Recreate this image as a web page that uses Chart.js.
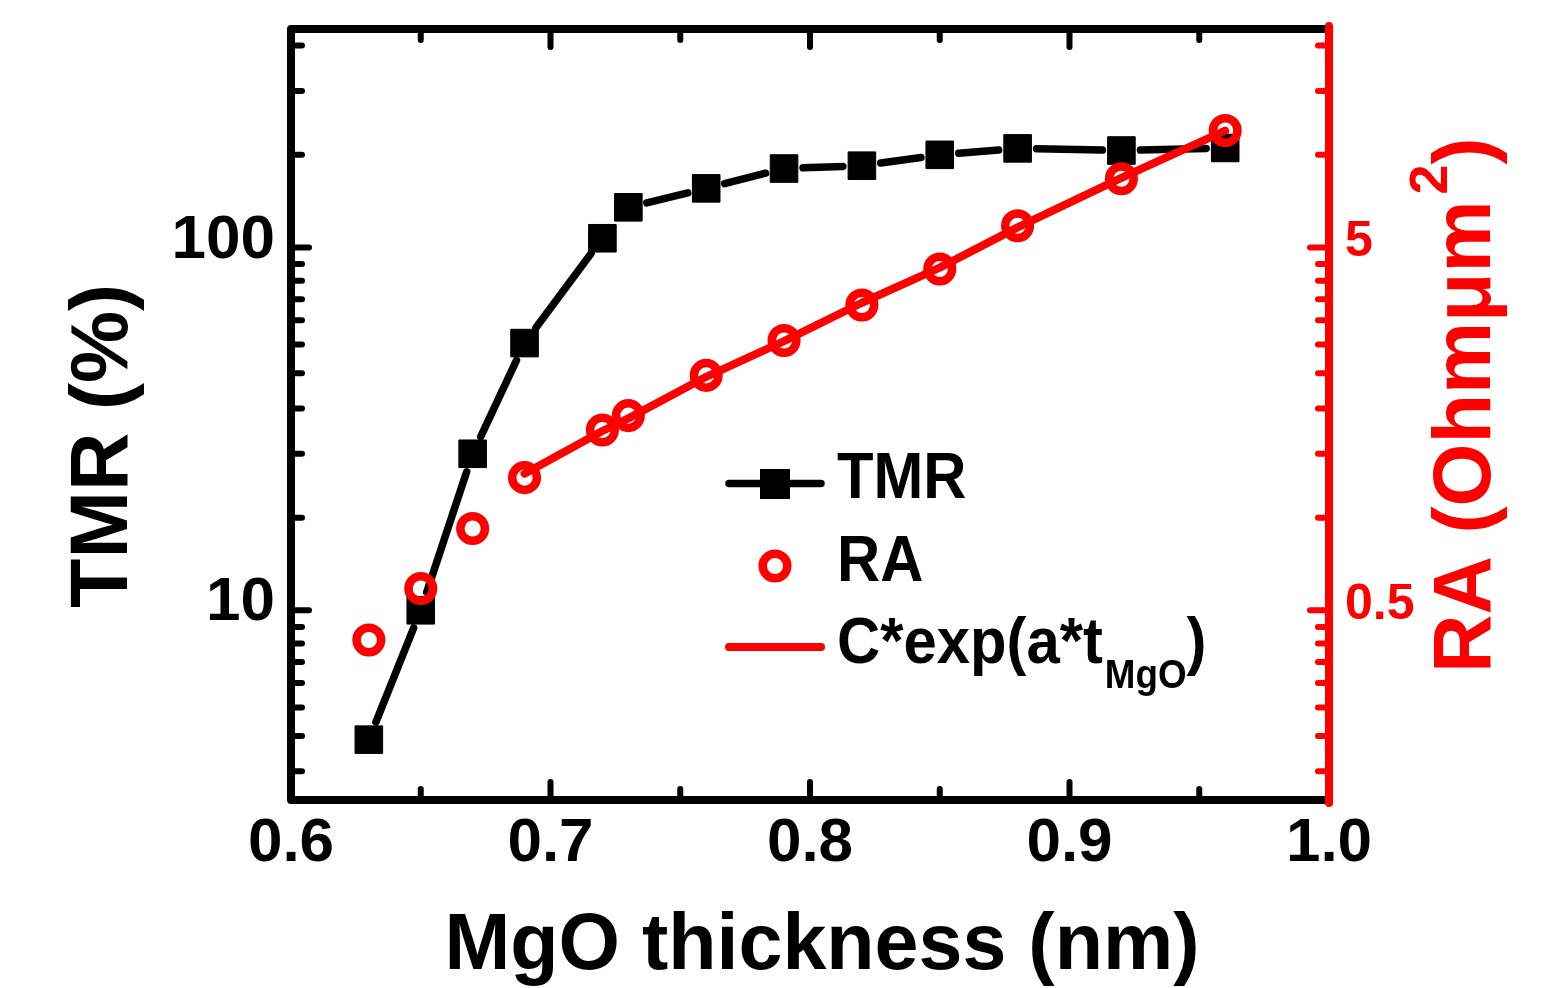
<!DOCTYPE html>
<html>
<head>
<meta charset="utf-8">
<title>TMR and RA vs MgO thickness</title>
<script src="https://cdn.jsdelivr.net/npm/chart.js@4.4.0/dist/chart.umd.min.js"></script>
<style>
  html, body { margin: 0; padding: 0; background: #fff; overflow: hidden; }
  #wrap { width: 1557px; height: 988px; position: relative; }
</style>
</head>
<body>
<div id="wrap"><canvas id="tmrChart"></canvas></div>
<script>
// Measured data
const thickness = [0.63, 0.65, 0.67, 0.69, 0.72, 0.73, 0.76, 0.79, 0.82, 0.85, 0.88, 0.92, 0.96];
const tmrValues = [4.4, 10, 27, 54.5, 106, 129, 145.5, 165, 168, 180, 187.5, 185, 188];
const raValues = [0.414, 0.574, 0.84, 1.16, 1.57, 1.72, 2.22, 2.77, 3.47, 4.36, 5.74, 7.73, 10.5];

// Exponential fit of RA
const fitThickness = [0.69, 0.72, 0.73, 0.76, 0.79, 0.82, 0.85, 0.88, 0.92, 0.96];
const raFitValues = [1.19, 1.56, 1.69, 2.2, 2.76, 3.52, 4.4, 5.68, 7.78, 10.5];

// Axis ticks
const xTicks = [0.6, 0.7, 0.8, 0.9, 1.0];
const xMinorTicks = [0.65, 0.75, 0.85, 0.95];
const tmrTicks = [10, 100];
const tmrMinorTicks = [3.6, 4.5, 5.4, 6.3, 7.2, 8.1, 9, 18, 27, 36, 45, 54, 63, 72, 81, 90, 180, 270, 360];
const raTicks = [0.5, 5];
const raMinorTicks = [0.18, 0.225, 0.27, 0.315, 0.36, 0.405, 0.45, 0.9, 1.35, 1.8, 2.25, 2.7, 3.15, 3.6, 4.05, 4.5, 9, 13.5, 18];

const FONT = '"Liberation Sans", Arial, Helvetica, sans-serif';
const RED = '#ff0000';

// text squeezed horizontally, returns drawn width
function squeezedText(ctx, str, x, y, sx) {
  ctx.save();
  ctx.translate(x, y);
  ctx.scale(sx, 1);
  ctx.fillText(str, 0, 0);
  const w = ctx.measureText(str).width * sx;
  ctx.restore();
  return w;
}

// Origin style connecting lines that stop short of the square symbols
const tmrLinks = {
  id: 'tmrLinks',
  beforeDatasetDraw(chart, args) {
    if (chart.data.datasets[args.index].label !== 'TMR') return;
    const pts = args.meta.data;
    const ctx = chart.ctx;
    const gap = 19;
    ctx.save();
    ctx.strokeStyle = '#000';
    ctx.lineWidth = 7.5;
    ctx.lineCap = 'round';
    for (let i = 1; i < pts.length; i++) {
      const a = pts[i - 1], b = pts[i];
      const dx = b.x - a.x, dy = b.y - a.y;
      const len = Math.hypot(dx, dy);
      if (len <= 2 * gap + 4) continue;
      const ux = dx / len, uy = dy / len;
      ctx.beginPath();
      ctx.moveTo(a.x + ux * gap, a.y + uy * gap);
      ctx.lineTo(b.x - ux * gap, b.y - uy * gap);
      ctx.stroke();
    }
    ctx.restore();
  }
};

// frame, inward ticks, titles and legend
const decorations = {
  id: 'decorations',
  afterDatasetsDraw(chart) {
    const ctx = chart.ctx;
    const { left, right, top, bottom } = chart.chartArea;
    const xs = chart.scales.x, ys = chart.scales.y, rs = chart.scales.y1;

    ctx.save();
    ctx.lineCap = 'round';
    ctx.lineWidth = 6;

    // x ticks, bottom and top
    ctx.strokeStyle = '#000';
    const xTick = (v, len) => {
      const px = xs.getPixelForValue(v);
      ctx.beginPath(); ctx.moveTo(px, bottom); ctx.lineTo(px, bottom - len); ctx.stroke();
      ctx.beginPath(); ctx.moveTo(px, top); ctx.lineTo(px, top + len); ctx.stroke();
    };
    xTicks.forEach(v => xTick(v, 18));
    xMinorTicks.forEach(v => xTick(v, 11));

    // left TMR ticks
    const yTick = (v, len) => {
      const py = ys.getPixelForValue(v);
      ctx.beginPath(); ctx.moveTo(left, py); ctx.lineTo(left + len, py); ctx.stroke();
    };
    tmrTicks.forEach(v => yTick(v, 18));
    tmrMinorTicks.forEach(v => yTick(v, 11));

    // frame
    ctx.lineWidth = 8;
    ctx.lineCap = 'butt';
    ctx.lineJoin = 'round';
    ctx.beginPath();
    ctx.moveTo(right, top); ctx.lineTo(left, top); ctx.lineTo(left, bottom); ctx.lineTo(right, bottom);
    ctx.stroke();

    // right RA axis in red
    ctx.strokeStyle = RED;
    ctx.lineCap = 'round';
    ctx.lineWidth = 6;
    const rTick = (v, len) => {
      const py = rs.getPixelForValue(v);
      ctx.beginPath(); ctx.moveTo(right, py); ctx.lineTo(right - len, py); ctx.stroke();
    };
    raTicks.forEach(v => rTick(v, 19));
    raMinorTicks.forEach(v => rTick(v, 11));
    ctx.lineWidth = 8;
    ctx.beginPath(); ctx.moveTo(right, top - 3); ctx.lineTo(right, bottom + 3); ctx.stroke();

    // axis titles
    ctx.fillStyle = '#000';
    ctx.font = 'bold 79px ' + FONT;
    ctx.textAlign = 'center';
    ctx.textBaseline = 'alphabetic';
    ctx.fillText('MgO thickness (nm)', 822, 969);

    ctx.save();
    ctx.translate(127, 446);
    ctx.rotate(-Math.PI / 2);
    ctx.font = 'bold 81px ' + FONT;
    ctx.fillText('TMR (%)', 0, 0);
    ctx.restore();

    ctx.save();
    ctx.fillStyle = RED;
    ctx.translate(1490, 673);
    ctx.rotate(-Math.PI / 2);
    ctx.textAlign = 'left';
    ctx.font = 'bold 81px ' + FONT;
    const main = 'RA (Ohm\u03bcm';
    let w = ctx.measureText(main).width;
    ctx.fillText(main, 0, 0);
    ctx.font = 'bold 54px ' + FONT;
    ctx.fillText('2', w + 6, -43);
    w += 6 + ctx.measureText('2').width;
    ctx.font = 'bold 81px ' + FONT;
    ctx.fillText(')', w, 0);
    ctx.restore();

    // legend
    ctx.lineCap = 'round';
    ctx.lineWidth = 7.5;
    ctx.strokeStyle = '#000';
    ctx.beginPath(); ctx.moveTo(729, 483.5); ctx.lineTo(821, 483.5); ctx.stroke();
    ctx.fillStyle = '#000';
    ctx.fillRect(775 - 15, 484 - 15, 30, 30);

    ctx.strokeStyle = RED;
    ctx.lineWidth = 8.5;
    ctx.beginPath(); ctx.arc(775, 566, 12.3, 0, Math.PI * 2); ctx.stroke();

    ctx.lineWidth = 8;
    ctx.beginPath(); ctx.moveTo(729, 647); ctx.lineTo(821, 647); ctx.stroke();

    ctx.fillStyle = '#000';
    ctx.textAlign = 'left';
    ctx.font = 'bold 65px ' + FONT;
    squeezedText(ctx, 'TMR', 837, 498, 0.92);
    squeezedText(ctx, 'RA', 837, 581, 0.92);
    let lx = 837;
    lx += squeezedText(ctx, 'C*exp(a*t', lx, 663, 0.92);
    ctx.font = 'bold 40px ' + FONT;
    lx += squeezedText(ctx, 'MgO', lx + 2, 688, 0.92) + 2;
    ctx.font = 'bold 65px ' + FONT;
    squeezedText(ctx, ')', lx, 663, 0.92);

    ctx.restore();
  }
};

// keep the plot box fixed: no extra room for overhanging tick labels
const noOverhang = s => {
  s.paddingTop = 0; s.paddingBottom = 0; s.paddingLeft = 0; s.paddingRight = 0;
};

const ctx = document.getElementById('tmrChart').getContext('2d');
const chart = new Chart(ctx, {
  type: 'line',
  data: {
    datasets: [
      // first dataset is drawn last, so RA circles sit on top
      {
        label: 'RA',
        data: thickness.map((x, i) => ({ x, y: raValues[i] })),
        yAxisID: 'y1',
        showLine: false,
        pointStyle: 'circle',
        pointRadius: 12.3,
        pointBorderWidth: 8.5,
        pointBorderColor: RED,
        pointBackgroundColor: 'rgba(0,0,0,0)'
      },
      {
        label: 'C*exp(a*t)',
        data: fitThickness.map((x, i) => ({ x, y: raFitValues[i] })),
        yAxisID: 'y1',
        borderColor: RED,
        borderWidth: 8,
        borderCapStyle: 'round',
        borderJoinStyle: 'round',
        pointRadius: 0,
        tension: 0,
        fill: false
      },
      {
        label: 'TMR',
        data: thickness.map((x, i) => ({ x, y: tmrValues[i] })),
        yAxisID: 'y',
        showLine: false,
        pointStyle: 'rect',
        pointRadius: 19.5,
        pointBorderWidth: 1,
        pointBorderColor: '#000',
        pointBackgroundColor: '#000'
      }
    ]
  },
  options: {
    responsive: true,
    maintainAspectRatio: false,
    animation: false,
    events: [],
    layout: { padding: { top: 29, left: 0, right: 0, bottom: 0 } },
    plugins: { legend: { display: false }, tooltip: { enabled: false } },
    scales: {
      x: {
        type: 'linear',
        position: 'bottom',
        min: 0.6,
        max: 1.0,
        grid: { display: false, drawTicks: false },
        border: { display: false },
        afterBuildTicks: s => { s.ticks = xTicks.map(v => ({ value: v })); },
        afterFit: s => { s.height = 188; noOverhang(s); },
        ticks: {
          autoSkip: false,
          maxRotation: 0,
          padding: 7,
          color: '#000',
          font: { family: FONT, size: 62, weight: 'bold', lineHeight: 1.2 },
          callback: v => Number(v).toFixed(1)
        }
      },
      y: {
        type: 'logarithmic',
        position: 'left',
        min: 3,
        max: 400,
        grid: { display: false, drawTicks: false },
        border: { display: false },
        afterBuildTicks: s => { s.ticks = tmrTicks.map(v => ({ value: v })); },
        afterFit: s => { s.width = 291; noOverhang(s); },
        ticks: {
          padding: 16,
          labelOffset: -7,
          color: '#000',
          font: { family: FONT, size: 62, weight: 'bold' },
          callback: v => String(v)
        }
      },
      y1: {
        type: 'logarithmic',
        position: 'right',
        min: 0.15,
        max: 20,
        grid: { display: false, drawTicks: false },
        border: { display: false },
        afterBuildTicks: s => { s.ticks = raTicks.map(v => ({ value: v })); },
        afterFit: s => { s.width = 228; noOverhang(s); },
        ticks: {
          padding: 16,
          labelOffset: -5,
          color: RED,
          font: { family: FONT, size: 50, weight: 'bold' },
          callback: v => String(v)
        }
      }
    }
  },
  plugins: [tmrLinks, decorations]
});
</script>
</body>
</html>
